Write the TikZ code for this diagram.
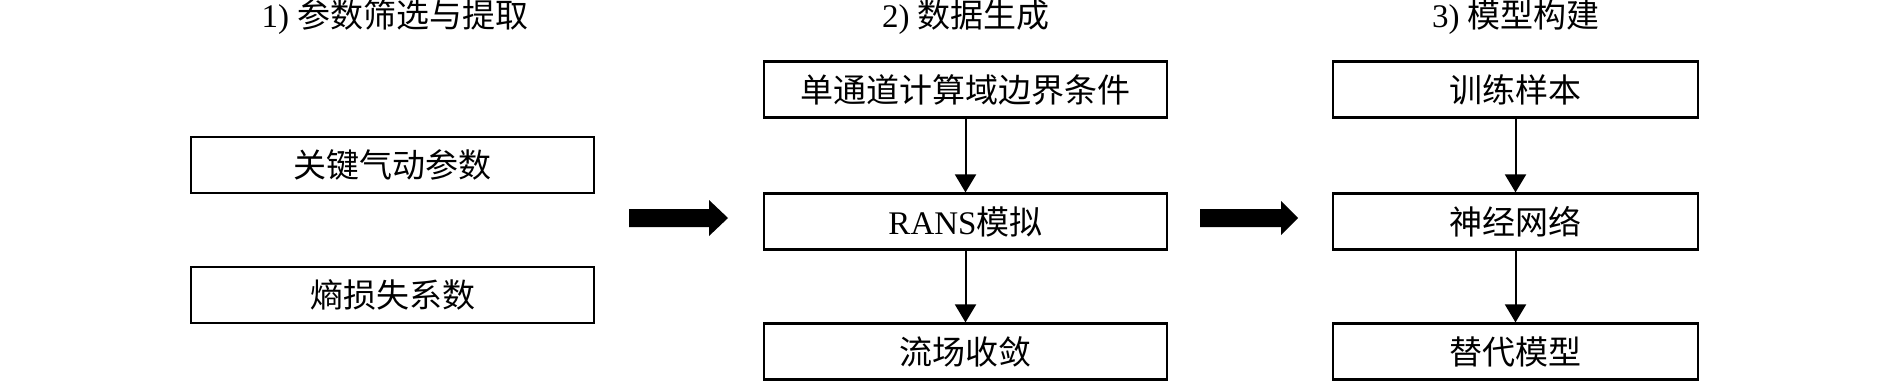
\documentclass[tikz,border=0pt]{standalone}
\usepackage{fontspec}
\setmainfont{Liberation Serif}
\newfontfamily\cjk{Noto Sans CJK SC}
\usetikzlibrary{arrows.meta}
\begin{document}
\begin{tikzpicture}[x=0.5pt,y=-0.5pt,
  box/.style={draw, line width=1.1pt, minimum height=28pt, inner sep=0pt, font=\fontsize{16.5}{18}\selectfont},
  wideA/.style={box, minimum width=201.5pt},
  wideC/.style={box, minimum width=182.5pt},
  title/.style={font=\fontsize{16.5}{18}\selectfont, inner sep=0pt},
  conn/.style={line width=1pt, -{Triangle[width=10.5pt,length=9pt]}},
  bigarrow/.style={fill=black}]
\useasboundingbox (0,0) rectangle (1890,381);
% titles
\node[title] (t1) at (395,17) {1) {\cjk 参数筛选与提取}};
\node[title] (t2) at (966,17) {2) {\cjk 数据生成}};
\node[title] (t3) at (1516,17) {3) {\cjk 模型构建}};
% column 1
\node[wideA] (a1) at (392.5,165) {\cjk 关键气动参数};
\node[wideA] (a2) at (392.5,295) {\cjk 熵损失系数};
% column 2
\node[wideA] (b1) at (965.5,89.5) {\cjk 单通道计算域边界条件};
\node[wideA] (b2) at (965.5,221.5) {RANS{\cjk 模拟}};
\node[wideA] (b3) at (965.5,351.5) {\cjk 流场收敛};
% column 3
\node[wideC] (c1) at (1515.5,89.5) {\cjk 训练样本};
\node[wideC] (c2) at (1515.5,221.5) {\cjk 神经网络};
\node[wideC] (c3) at (1515.5,351.5) {\cjk 替代模型};
% connectors
\draw[conn] (b1) -- (b2);
\draw[conn] (b2) -- (b3);
\draw[conn] (c1) -- (c2);
\draw[conn] (c2) -- (c3);
% big arrows
\fill[bigarrow] (629,209) -- (709,209) -- (709,200) -- (728,218) -- (709,236) -- (709,227) -- (629,227) -- cycle;
\fill[bigarrow] (1200,209) -- (1281,209) -- (1281,201) -- (1298,218) -- (1281,235) -- (1281,227) -- (1200,227) -- cycle;
\end{tikzpicture}
\end{document}
